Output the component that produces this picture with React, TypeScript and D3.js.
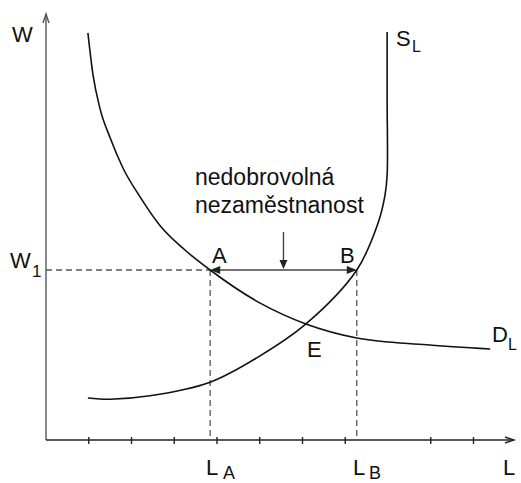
import React from "react";
import * as d3 from "d3";

// Labour demand curve D_L (L, W)
const demandL = [0.98, 1.1, 1.26, 1.5, 1.8, 2.2, 2.67, 3.25, 3.84, 5.01, 6.08, 7.27, 8.91, 10.39];
const demandW = [9.58, 8.59, 7.81, 7.11, 6.4, 5.72, 5.04, 4.47, 4.0, 3.22, 2.73, 2.4, 2.24, 2.14];
// Labour supply curve S_L (L, W)
const supplyL = [0.98, 1.5, 2.43, 3.84, 4.96, 6.08, 7.27, 7.77, 7.93, 7.98, 7.98, 7.98];
const supplyW = [0.99, 0.96, 1.04, 1.36, 1.95, 2.73, 4.0, 5.11, 5.76, 6.24, 8.0, 9.6];
const xTicks = [1, 2, 3, 4, 5, 6, 7, 9, 10];
const W1 = 4.0;
const LA = 3.84;
const LB = 7.27;
const annotation = ["nedobrovolná", "nezaměstnanost"];

const W = 521;
const H = 483;
const FONT = "'Liberation Sans', Arial, sans-serif";

export default function App() {
  const x = d3.scaleLinear().domain([0, 11]).range([46, 516.25]);
  const y = d3.scaleLinear().domain([0, 10]).range([440, 15]);

  const demandLine = d3
    .line<[number, number]>()
    .x((d) => x(d[0]))
    .y((d) => y(d[1]))
    .curve(d3.curveMonotoneX);
  const supplyLine = d3
    .line<[number, number]>()
    .x((d) => x(d[0]))
    .y((d) => y(d[1]))
    .curve(d3.curveCatmullRom.alpha(0.5));

  const demand = demandL.map((l, i) => [l, demandW[i]] as [number, number]);
  const supply = supplyL.map((l, i) => [l, supplyW[i]] as [number, number]);

  const x0 = x(0);
  const y0 = y(0);
  const yTop = 14;
  const xEnd = 514;
  const yW1 = y(W1);
  const xA = x(LA);
  const xB = x(LB);
  const xMid = x((LA + LB) / 2);

  const axisColor = "#222";
  const dashColor = "#555";
  const curveColor = "#111";

  return (
    <svg
      width={W}
      height={H}
      style={{ position: "absolute", left: 0, top: 0, background: "#fff" }}
      fontFamily={FONT}
    >
      <rect width={W} height={H} fill="#fff" />
      {/* dashed guides */}
      <g stroke={dashColor} strokeWidth={1.3} strokeDasharray="6,4" fill="none">
        <line x1={x0} y1={yW1} x2={xA} y2={yW1} />
        <line x1={xA} y1={yW1} x2={xA} y2={y0} />
        <line x1={xB} y1={yW1} x2={xB} y2={y0} />
      </g>
      {/* axes */}
      <g stroke={axisColor} strokeWidth={1.4} fill="none">
        <line x1={x0} y1={y0} x2={x0} y2={yTop} stroke="#555" />
        <polyline points={`${x0 - 3},${yTop + 9} ${x0},${yTop} ${x0 + 3},${yTop + 9}`} stroke="#555" />
        <line x1={x0} y1={y0} x2={xEnd} y2={y0} />
        <polyline points={`${xEnd - 9},${y0 - 3} ${xEnd},${y0} ${xEnd - 9},${y0 + 3}`} />
        {xTicks.map((t) => (
          <line key={t} x1={x(t)} y1={y0 - 3} x2={x(t)} y2={y0 + 4} />
        ))}
      </g>
      {/* curves */}
      <path d={demandLine(demand) || ""} stroke={curveColor} strokeWidth={1.6} fill="none" />
      <path d={supplyLine(supply) || ""} stroke={curveColor} strokeWidth={1.6} fill="none" />
      {/* double arrow A-B */}
      <g stroke="#444" strokeWidth={1.4} fill="#222">
        <line x1={xA + 8} y1={yW1} x2={xB - 8} y2={yW1} />
        <polygon points={`${xA},${yW1} ${xA + 10},${yW1 - 4} ${xA + 10},${yW1 + 4}`} stroke="none" />
        <polygon points={`${xB},${yW1} ${xB - 10},${yW1 - 4} ${xB - 10},${yW1 + 4}`} stroke="none" />
        <line x1={xMid} y1={232} x2={xMid} y2={yW1 - 8} />
        <polygon points={`${xMid},${yW1 - 1} ${xMid - 4},${yW1 - 10} ${xMid + 4},${yW1 - 10}`} stroke="none" />
      </g>
      {/* labels */}
      <g fill="#111" fontSize={22}>
        <text x={12} y={42}>W</text>
        <text x={10} y={268}>W</text>
        <text x={32} y={277} fontSize={17}>1</text>
        <text x={396} y={46}>S</text>
        <text x={412} y={52} fontSize={16}>L</text>
        <text x={492} y={342}>D</text>
        <text x={508} y={350} fontSize={16}>L</text>
        <text x={212} y={263}>A</text>
        <text x={340} y={263}>B</text>
        <text x={307} y={357}>E</text>
        <text x={206} y={475}>L</text>
        <text x={223} y={479} fontSize={18}>A</text>
        <text x={353} y={475}>L</text>
        <text x={369} y={479} fontSize={18}>B</text>
        <text x={503} y={475}>L</text>
        <text x={195} y={185} fontSize={23}>{annotation[0]}</text>
        <text x={195} y={213} fontSize={23}>{annotation[1]}</text>
      </g>
    </svg>
  );
}
